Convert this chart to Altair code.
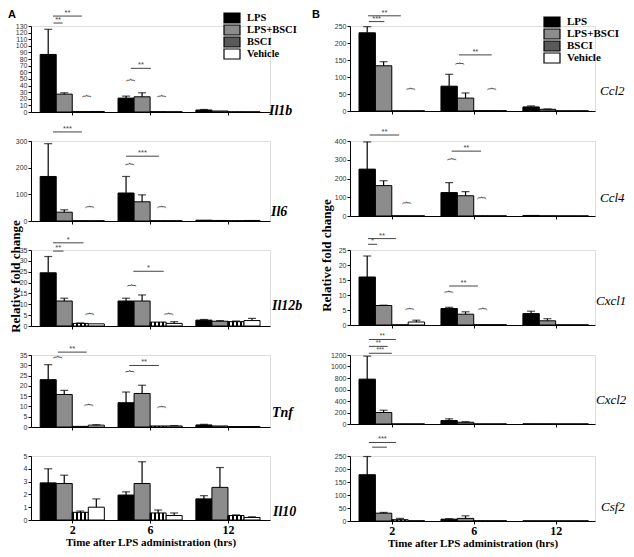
import altair as alt
import pandas as pd

GROUPS = ["2", "6", "12"]
SERIES = ["LPS", "LPS+BSCI", "BSCI", "Vehicle"]
FILLS = ["#000000", "#8c8c8c", "#5a5a5a", "#ffffff"]

# means[group][series] and top of error bar (None = no visible bar)
IL1B = [[87, 27, 0.6, 0.8], [21, 23, 0.5, 0.4], [3, 1.5, 0.3, 0.3]]
IL1B_ERR = [[125, 29, None, None], [24, 29, None, None], [3.8, None, None, None]]
IL6 = [[167, 33, 1, 1], [105, 72, 1, 1], [3, 2, 1, 2]]
IL6_ERR = [[290, 42, None, None], [167, 98, None, None], [None, None, None, None]]
IL12B = [[24.5, 11.5, 1.2, 1.0], [11.5, 11.5, 1.8, 1.2], [2.7, 2.2, 2.0, 2.5]]
IL12B_ERR = [[32, 12.8, 1.4, None], [12.8, 14.3, None, 2.0], [3.0, 2.5, 2.3, 3.5]]
TNF = [[23, 15.8, 0.3, 0.9], [11.8, 16.3, 0.5, 0.5], [1.0, 0.5, 0.2, 0.2]]
TNF_ERR = [[30.3, 17.8, None, 1.1], [17, 20.3, None, 0.7], [1.3, None, None, None]]
IL10 = [[2.9, 2.85, 0.6, 1.0], [1.95, 2.85, 0.55, 0.35], [1.65, 2.55, 0.35, 0.2]]
IL10_ERR = [[4.0, 3.5, 0.7, 1.65], [2.2, 4.55, 0.78, 0.55], [1.9, 4.1, 0.4, 0.25]]

CCL2 = [[230, 133, 0.5, 0.5], [73, 38, 1, 1], [12, 5, 0.5, 0.5]]
CCL2_ERR = [[248, 145, None, None], [108, 53, None, None], [15, 6, None, None]]
CCL4 = [[250, 162, 1, 1], [125, 108, 1, 1], [3, 1, 0.5, 0.5]]
CCL4_ERR = [[395, 188, None, None], [178, 130, None, None], [None, None, None, None]]
CXCL1 = [[16, 6.5, 0.05, 1.0], [5.5, 3.6, 0.1, 0.1], [3.8, 1.4, 0.05, 0.05]]
CXCL1_ERR = [[23, 6.6, None, 1.6], [5.9, 4.4, None, None], [4.6, 2.1, None, None]]
CXCL2 = [[780, 200, 1, 1], [60, 30, 1, 1], [2, 2, 1, 1]]
CXCL2_ERR = [[1180, 240, None, None], [90, 40, None, None], [None, None, None, None]]
CSF2 = [[178, 30, 5, 1], [7, 10, 1, 1], [0.5, 0.5, 0.5, 0.5]]
CSF2_ERR = [[248, 33, 10, None], [9, 20, None, None], [None, None, None, None]]

# significance lines: (group, from bar, to bar, value, stars); braces: (group, bar, value)
IL1B_SIG = [(0, 0.3, 2.1, 145, "**"), (0, 0.33, 0.9, 134.5, "**"), (1, 0.3, 1.55, 66, "**")]
IL1B_BR = [(0, 2.4, 24), (1, 0.3, 48), (1, 2.25, 24)]
IL6_SIG = [(0, 0.3, 2.1, 334, "***"), (1, 0.0, 2.05, 243, "***")]
IL6_BR = [(0, 2.6, 53), (1, 0.25, 213), (1, 2.25, 53)]
IL12B_SIG = [(0, 0.3, 2.2, 38.3, "*"), (0, 0.3, 0.95, 34.5, "**"), (1, 0.45, 2.35, 25.2, "*")]
IL12B_BR = [(0, 2.6, 5.6), (1, 0.4, 18.7), (1, 2.7, 5.6)]
TNF_SIG = [(0, 0.6, 2.4, 36.4, "**"), (1, 0.2, 2.05, 29.9, "**")]
TNF_BR = [(0, 0.6, 34), (0, 2.55, 10.7), (1, 0.25, 27), (1, 2.25, 9.8)]
CCL2_SIG = [(0, 0.05, 2.05, 280, "**"), (0, 0.1, 1.05, 263, "***"), (1, 0.6, 2.6, 165, "**")]
CCL2_BR = [(0, 2.7, 65), (1, 0.65, 139), (1, 2.6, 65)]
CCL4_SIG = [(0, 0.15, 1.95, 432, "**"), (1, 0.15, 1.95, 346, "**")]
CCL4_BR = [(0, 2.45, 70), (1, 0.15, 303), (1, 2.0, 97)]
CXCL1_SIG = [(0, 0.05, 1.75, 28.8, "**"), (0, 0.05, 0.6, 26.9, "*"), (1, 0.0, 1.75, 13, "**")]
CXCL1_BR = [(0, 2.6, 5.4), (1, 0.0, 11), (1, 2.05, 5.4)]
CXCL2_SIG = [(0, 0.1, 1.75, 1470, "**"), (0, 0.1, 1.25, 1350, "**"), (0, 0.1, 1.5, 1230, "***")]
CSF2_SIG = [(0, 0.1, 1.75, 302, "***"), (0, 0.3, 1.2, 284, "")]

SERIF = "Liberation Serif"
SANS = "Liberation Sans"

stops = []
for i in range(8):
    c = "#000000" if i % 2 == 0 else "#ffffff"
    stops.append({"offset": i / 8, "color": c})
    stops.append({"offset": (i + 1) / 8, "color": c})
CHECKER = {"gradient": "linear", "x1": 0, "y1": 0, "x2": 1, "y2": 0, "stops": stops}

COLS = {
    "A": dict(width=239, xdom=[-0.53, 2.54], bw=0.206),
    "B": dict(width=245, xdom=[-0.51, 2.48], bw=0.2),
}
XLABEL_EXPR = "[" + ",".join("'%s'" % g for g in GROUPS) + "][round(datum.value)]"


def panel(col, gene, means, errs, sigs, braces, ymax, ystep, height,
          bottom=False, ytitle=None, legend=None, letter=None,
          gene_dx=0, gene_dy=0, gene_bold=True, gene_size=14, star_size=7.5):
    cfg = COLS[col]
    width, bw = cfg["width"], cfg["bw"]
    rows = []
    for g in range(len(GROUPS)):
        for s, ser in enumerate(SERIES):
            rows.append(dict(series=ser, x1=g + (s - 2) * bw, x2=g + (s - 1) * bw,
                             xc=g + (s - 1.5) * bw, v=means[g][s], e=errs[g][s]))
    bars = pd.DataFrame(rows)
    errdf = bars.dropna(subset=["e"])

    xscale = alt.Scale(domain=cfg["xdom"], nice=False, zero=False)
    yscale = alt.Scale(domain=[0, ymax], nice=False, zero=True)
    xaxis = alt.Axis(values=[0, 1, 2], labelExpr=XLABEL_EXPR, labels=bottom,
                     title="Time after LPS administration (hrs)" if bottom else None,
                     grid=False, domainColor="#000", domainWidth=1, tickColor="#000",
                     tickSize=3, labelFont=SERIF, labelFontWeight="bold", labelFontSize=12,
                     labelColor="#000", labelPadding=1, labelFlush=False,
                     titleFont=SERIF, titleFontWeight="bold", titleFontSize=11,
                     titleColor="#000", titlePadding=1)
    yk = dict(values=list(range(0, ymax + 1, ystep)), format="d", grid=False,
              domainColor="#000", domainWidth=1, tickColor="#000", tickSize=3,
              labelFont=SANS, labelFontSize=7, labelColor="#333", labelPadding=1,
              labelFlush=False, labelOverlap=False)
    if ytitle:
        yk.update(title="Relative fold change", titleFont=SERIF, titleFontWeight="bold",
                  titleFontSize=13, titleColor="#000", titleAngle=270,
                  titleAlign="center", titleBaseline="bottom",
                  titleX=ytitle[0], titleY=ytitle[1])
    else:
        yk.update(title=None)
    yaxis = alt.Axis(**yk)

    def X(f):
        return alt.X(f, type="quantitative", scale=xscale, axis=xaxis)

    def Y(f):
        return alt.Y(f, type="quantitative", scale=yscale, axis=yaxis)

    fill = alt.condition(
        "datum.series === 'BSCI'", alt.value(CHECKER),
        alt.Fill("series:N", scale=alt.Scale(domain=SERIES, range=FILLS),
                 legend=legend if legend is not None else None))

    layers = [
        alt.Chart(bars).mark_bar(stroke="#000", strokeWidth=1).encode(
            x=X("x1"), x2="x2", y=Y("v"), y2=alt.datum(0), fill=fill),
    ]
    if len(errdf):
        layers.append(alt.Chart(errdf).mark_rule(color="#000", strokeWidth=1.2).encode(
            x=X("xc"), y=Y("v"), y2="e"))
        layers.append(alt.Chart(errdf).mark_tick(orient="horizontal", size=8, thickness=1.2,
                                                 color="#000").encode(x=X("xc"), y=Y("e")))
    if sigs:
        sd = pd.DataFrame([dict(a=g + (b1 - 1.5) * bw, c=g + (b2 - 1.5) * bw,
                                m=g + ((b1 + b2) / 2 - 1.5) * bw, y=y, lab=lab)
                           for g, b1, b2, y, lab in sigs])
        layers.append(alt.Chart(sd).mark_rule(color="#444", strokeWidth=1).encode(
            x=X("a"), x2="c", y=Y("y")))
        layers.append(alt.Chart(sd).mark_text(font=SANS, fontSize=star_size, color="#444",
                                              baseline="alphabetic", dy=-1).encode(
            x=X("m"), y=Y("y"), text="lab:N"))
    if braces:
        bd = pd.DataFrame([dict(x=g + (b - 1.5) * bw, y=y) for g, b, y in braces])
        layers.append(alt.Chart(bd).mark_text(text="{", angle=90, font=SERIF, fontSize=11,
                                              color="#333", align="center",
                                              baseline="middle").encode(x=X("x"), y=Y("y")))
    layers.append(alt.Chart(pd.DataFrame({"t": [gene]})).mark_text(
        font=SERIF, fontStyle="italic", fontWeight="bold" if gene_bold else "normal",
        fontSize=gene_size, align="left", baseline="alphabetic", color="#000").encode(
        x=alt.value(width + gene_dx), y=alt.value(height + gene_dy), text="t:N"))
    if letter:
        layers.append(alt.Chart(pd.DataFrame({"t": [letter[0]]})).mark_text(
            font=SANS, fontWeight="bold", fontSize=11, align="left",
            baseline="alphabetic", color="#000").encode(
            x=alt.value(letter[1]), y=alt.value(letter[2]), text="t:N"))
    return alt.layer(*layers).properties(width=width, height=height)


def leg(x, y, size):
    return alt.Legend(orient="none", legendX=x, legendY=y, title=None,
                      symbolType="M-1,-0.625H1V0.625H-1Z", symbolSize=256,
                      symbolStrokeColor="#000", symbolStrokeWidth=1.2, symbolOpacity=1,
                      labelFont=SERIF, labelFontWeight="bold", labelFontSize=size,
                      labelColor="#000", labelOffset=6, clipHeight=12, rowPadding=0,
                      padding=0)


A1 = panel("A", "Il1b", IL1B, IL1B_ERR, IL1B_SIG, IL1B_BR, 130, 10, 86,
           legend=leg(192, -14, 10.5), letter=("A", -23, -8), gene_dx=-1, gene_dy=3)
A2 = panel("A", "Il6", IL6, IL6_ERR, IL6_SIG, IL6_BR, 300, 100, 80, gene_dx=1, gene_dy=-5)
A3 = panel("A", "Il12b", IL12B, IL12B_ERR, IL12B_SIG, IL12B_BR, 35, 5, 76,
           ytitle=(-9, 26), gene_dx=2, gene_dy=-16)
A4 = panel("A", "Tnf", TNF, TNF_ERR, TNF_SIG, TNF_BR, 35, 5, 72, gene_dx=2, gene_dy=-10)
A5 = panel("A", "Il10", IL10, IL10_ERR, [], [], 5, 1, 64, bottom=True, gene_dx=3, gene_dy=-4)

B1 = panel("B", "Ccl2", CCL2, CCL2_ERR, CCL2_SIG, CCL2_BR, 250, 50, 85,
           legend=leg(193, -10, 11), letter=("B", -38, -8), gene_dx=5, gene_dy=-16,
           gene_bold=False, gene_size=13)
B2 = panel("B", "Ccl4", CCL4, CCL4_ERR, CCL4_SIG, CCL4_BR, 400, 100, 75,
           gene_dx=5, gene_dy=-14, gene_bold=False, gene_size=13)
B3 = panel("B", "Cxcl1", CXCL1, CXCL1_ERR, CXCL1_SIG, CXCL1_BR, 25, 5, 75,
           ytitle=(-17, 5), gene_dx=1, gene_dy=-20, gene_bold=False, gene_size=13)
B4 = panel("B", "Cxcl2", CXCL2, CXCL2_ERR, CXCL2_SIG, [], 1200, 200, 69,
           gene_dx=1, gene_dy=-20, gene_bold=False, gene_size=13, star_size=6.5)
B5 = panel("B", "Csf2", CSF2, CSF2_ERR, CSF2_SIG, [], 250, 50, 65, bottom=True,
           gene_dx=6, gene_dy=-10, gene_bold=False, gene_size=13)

chart = alt.concat(A1, B1, A2, B2, A3, B3, A4, B4, A5, B5, columns=2,
                   spacing={"row": 29, "column": 80}, bounds="flush", align="each").resolve_scale(
    x="independent", y="independent", fill="independent").resolve_legend(
    fill="independent").properties(
    autosize=alt.AutoSizeParams(type="none"),
    padding={"left": 23, "top": 18, "right": 595, "bottom": 523}
).configure_view(stroke=None).configure(background="#ffffff")

chart.save("out.html", embed_options={"renderer": "svg", "actions": False})
